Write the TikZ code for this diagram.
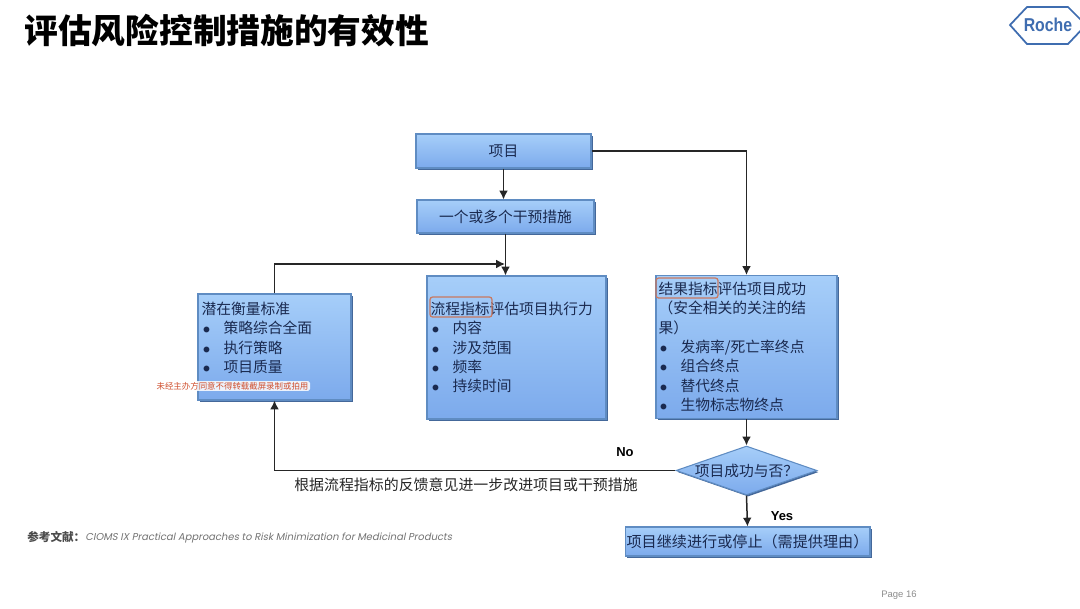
\documentclass[tikz,border=0pt]{standalone}
\usepackage{fontspec}
\setmainfont{Noto Sans CJK SC}
\newfontfamily\latinfont{Liberation Sans}
\newfontfamily\reffont{Poppins}[FakeSlant=0.2]
\usetikzlibrary{shapes.geometric,shadows,arrows.meta}

\definecolor{boxedge}{HTML}{5F8CC2}
\definecolor{boxshade}{HTML}{44689A}
\definecolor{boxtop}{HTML}{A6CEF9}
\definecolor{boxbottom}{HTML}{7CAAEC}
\definecolor{boxtext}{HTML}{1A2A50}
\definecolor{markred}{HTML}{C9785F}
\definecolor{rochehex}{HTML}{3F6DB0}

\tikzset{
    flowbox/.style={draw=boxedge, line width=0.6pt, top color=boxtop, bottom color=boxbottom,
        drop shadow={shadow xshift=0.9pt, shadow yshift=-0.9pt, fill=boxshade, opacity=1},
        inner sep=0pt, text=boxtext, font=\fontsize{8.4}{11}\selectfont},
    flowline/.style={draw=black!85, line width=0.85pt},
    flowarrow/.style={flowline, -{Latex[length=5pt,width=5pt]}},
    markbox/.style={draw=markred, line width=0.7pt, rounded corners=1.5pt, inner sep=0pt}
}
\newcommand{\itembul}[1]{\makebox[12.6pt][l]{\hspace{0.8pt}$\bullet$}#1}

\begin{document}
\begin{tikzpicture}[x=0.02cm, y=-0.02cm]
    % fixed frame, one unit is one pixel of the slide
    \useasboundingbox (0,0) rectangle (1080,609);

    % --- heading and logo ---
    \node[anchor=west, inner sep=0pt, font=\fontsize{19.2}{24}\selectfont\bfseries] (title) at (24,31) {评估风险控制措施的有效性};
    \begin{scope}
        \clip (1000,0) rectangle (1080,50);
        \draw[rochehex, line width=1pt] (1010,25) -- (1027,7) -- (1068,7) -- (1086,25) -- (1068,44) -- (1027,44) -- cycle;
    \end{scope}
    \node[inner sep=0pt, text=rochehex, font=\latinfont\fontsize{10.6}{12}\selectfont\bfseries, xscale=0.85] (logo) at (1048,25) {Roche};

    % --- boxes ---
    \node[flowbox, minimum width=3.5cm, minimum height=0.68cm] (proj) at (503.5,151) {项目};
    \node[flowbox, minimum width=3.54cm, minimum height=0.66cm] (inter) at (505.5,216.5) {一个或多个干预措施};
    \node[flowbox, minimum width=3.58cm, minimum height=2.86cm, align=left, text width=3.44cm] (proc) at (516.5,347.5) {%
        流程指标评估项目执行力\\
        \itembul{内容}\\
        \itembul{涉及范围}\\
        \itembul{频率}\\
        \itembul{持续时间}};
    \node[flowbox, minimum width=3.62cm, minimum height=2.86cm, align=left, text width=3.52cm] (res) at (746.5,347) {%
        结果指标评估项目成功\\
        （安全相关的关注的结\\
        果）\\
        \itembul{发病率/死亡率终点}\\
        \itembul{组合终点}\\
        \itembul{替代终点}\\
        \itembul{生物标志物终点}};
    \node[flowbox, minimum width=3.06cm, minimum height=2.12cm, align=left, text width=2.92cm] (std) at (274.5,347) {%
        潜在衡量标准\\
        \itembul{策略综合全面}\\
        \itembul{执行策略}\\
        \itembul{项目质量}\\
        \mbox{}};
    \node[flowbox, diamond, aspect=2.88, minimum width=2.82cm, minimum height=0.98cm,
        label={[text=boxtext, font=\fontsize{8.4}{11}\selectfont]center:项目成功与否？}] (dia) at (746.5,470.5) {};
    \node[flowbox, minimum width=4.9cm, minimum height=0.58cm, font=\fontsize{8.6}{11}\selectfont] (stop) at (747.5,541.5) {项目继续进行或停止（需提供理由）};

    % --- red marks on the first lines ---
    \node[markbox, minimum width=1.24cm, minimum height=0.4cm] (procmark) at (461,307) {};
    \node[markbox, minimum width=1.24cm, minimum height=0.4cm] (resmark) at (687,288) {};

    % --- connectors ---
    \coordinate (merge) at (505,264);
    \draw[flowarrow] (proj.south) -- (proj.south |- inter.north);
    \draw[flowarrow] (inter.south) -- (inter.south |- proc.north);
    \draw[flowarrow] (proj.east) -| (res.north);
    \draw[flowarrow] (std.north) |- (merge);
    \draw[flowarrow] (res.south) -- (dia.north);
    \draw[flowarrow] (dia.west) -| (std.south);
    \draw[flowarrow] (dia.south) -- (stop.north);

    % --- labels ---
    \node[inner sep=0pt, font=\latinfont\fontsize{7.4}{9}\selectfont\bfseries] (nolab) at (625,452) {No};
    \node[inner sep=0pt, font=\latinfont\fontsize{7.4}{9}\selectfont\bfseries] (yeslab) at (782,516) {Yes};
    \node[inner sep=0pt, text=black!85, font=\fontsize{8.5}{11}\selectfont] (feedback) at (466,485) {根据流程指标的反馈意见进一步改进项目或干预措施};

    % --- overlay and footer ---
    \node[fill=white, fill opacity=0.85, text opacity=1, inner xsep=1pt, inner ysep=0.5pt, rounded corners=1pt,
        text={rgb,255:red,208;green,80;blue,47}, font=\fontsize{4.8}{6}\selectfont] (stamp) at (232.5,386) {未经主办方同意不得转载截屏录制或拍用};
    \node[anchor=west, inner sep=0pt, text=black!70, font=\fontsize{6.6}{8}\selectfont\bfseries] (refhead) at (27,537.5) {参考文献：};
    \node[anchor=west, inner sep=0pt, text=black!55, font=\reffont\fontsize{5.68}{7}\selectfont] (reftext) at (85,538) {CIOMS IX Practical Approaches to Risk Minimization for Medicinal Products};
    \node[inner sep=0pt, text=black!45, font=\latinfont\fontsize{5.4}{6}\selectfont] (page) at (899,595) {Page 16};
\end{tikzpicture}
\end{document}
